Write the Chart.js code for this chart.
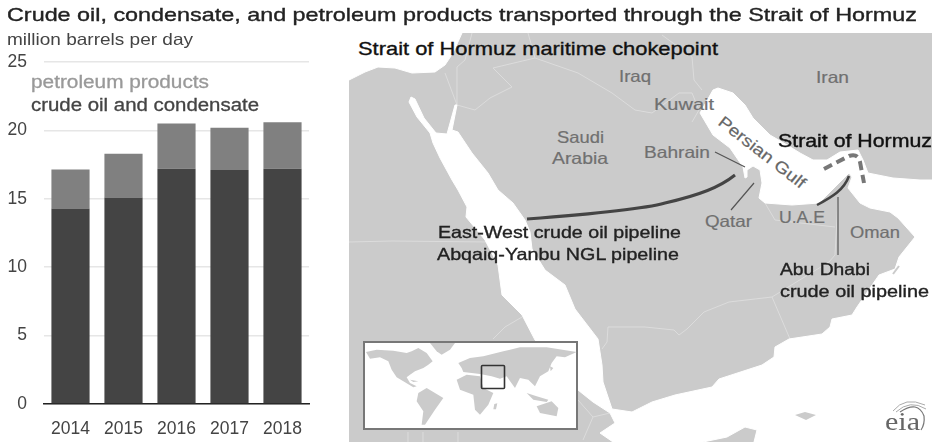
<!DOCTYPE html>
<html>
<head>
<meta charset="utf-8">
<title>Strait of Hormuz</title>
<script src="https://cdn.jsdelivr.net/npm/chart.js@4"></script>
<style>
  html, body { margin: 0; padding: 0; background: #fff; overflow: hidden; }
  #page { position: relative; width: 932px; height: 442px; filter: blur(.4px); }
  #flows { position: absolute; left: 0; top: 0; }
  #map { position: absolute; left: 0; top: 0; }
  text { font-family: "Liberation Sans", Arial, sans-serif; }
  .place { fill: #707070; font-size: 16.5px; stroke: #707070; stroke-width: .2; }
  .note { fill: #222; font-size: 16.5px; stroke: #222; stroke-width: .35; }
  .border { fill: none; stroke: #dcdcdc; stroke-width: 1; }
  .leader { fill: none; stroke: #555; stroke-width: 1.2; }
</style>
</head>
<body>
<div id="page">
<svg id="map" width="932" height="442">
  <!-- land -->
  <rect x="349" y="33" width="583" height="409" fill="#cbcbcb"/>
  <!-- borders -->
  <path class="border" d="M445 73L457 105M472 33L465 60L457 67L457 105L475 110L490 98L512 87L493 68L535 58L528 33M535 58L578 73L612 93L635 110L652 113L679 93L692 93L699 110L692 122M662 35L692 57L694 80L702 90"/>
  <path class="border" d="M765 203L775 220L835 227M838 200L835 255L829 262L772 297L729 302L704 312L687 329L679 335L674 330L645 327L608 327L607 342L602 349M772 297L790 339"/>
  <path class="border" d="M349 242L392 241L490 242M493 339L505 327L522 317M408 432V442M423 432V442M458 432V442M578 400L593 417L583 440M593 417L610 413"/>
  <!-- water -->
  <path fill="#fff" stroke="#fff" stroke-width="1" stroke-linejoin="round" d="M349 33H462L453 53L445 65L435 72L412 73L395 68L378 67L365 72L349 80Z"/>
  <path fill="#fff" stroke="#fff" stroke-width="1" stroke-linejoin="round" d="M700 113L713 90L718 88L733 93L745 105L753 118L770 135L787 145L800 153L813 160L827 160L840 152L858 150L863 160L868 173L893 178L920 180L932 180V442H754L757 430L745 427L727 437L703 442H613L600 433L615 423L610 413L593 402L578 390L535 340L522 315L502 295L498 265L485 240L466 217L467 207L458 190L452 180L440 158L433 143L430 133L417 117L409 102L411 97L415 99L424 118L436 133L447 134L455 105L457 105L452 130L458 132L472 153L488 173L498 190L513 203L525 220L530 232L532 249L545 270L565 285L575 309L598 339L602 365L603 382L612 409L632 412L652 402L675 395L712 387L719 379L762 365L774 357L775 347L789 339L822 334L830 327L832 319L852 315L857 307L879 275L895 269L899 257L915 237L898 218L890 212L870 208L860 203L848 188L852 177L849 173L832 190L819 203L792 205L765 203L759 198L762 183L760 170L753 166L747 170L747 177L745 178L743 167L730 148L713 135Z"/>
  <!-- islands -->
  <path fill="#cbcbcb" d="M795 415L805 412L816 415L806 420Z"/>
  <path fill="none" stroke="#cbcbcb" stroke-width="2" d="M893 274L899 266"/>
  <!-- inset world map -->
  <rect x="364" y="342" width="213" height="87" fill="#fff" stroke="#777" stroke-width="2"/>
  <g transform="translate(360 338) scale(.3333)" fill="#cbcbcb">
    <path d="M18 42L50 35L100 38L140 45L155 40L175 30L200 45L218 70L205 80L190 90L165 100L150 110L140 118L150 135L170 145L160 148L130 130L110 118L95 95L85 70L60 58L30 62Z"/>
    <path d="M210 15H285L270 35L245 50L230 40Z"/>
    <path d="M175 165L200 150L250 180L225 215L195 260L185 260L190 220L170 190Z"/>
    <path d="M290 125L320 110L360 115L370 150L400 165L385 200L360 230L345 215L340 170L300 155Z"/>
    <path d="M295 75L330 60L370 55L430 40L480 28H560L650 42L615 58L590 55L575 75L565 100L540 115L525 145L505 125L480 120L465 150L440 115L420 122L395 115L360 108L310 102L305 90Z"/>
    <path d="M530 205L575 190L595 210L590 235L540 225Z"/>
    <path d="M500 165L530 175L565 185L560 192L520 185ZM403 198L412 196L408 214L400 214ZM570 85L580 90L572 100ZM150 125L175 130L160 132Z"/>
  </g>
  <rect x="481.500" y="365.500" width="23" height="23" fill="none" stroke="#333" stroke-width="1.6" rx="1"/>
  <!-- pipelines and leader lines -->
  <path fill="none" stroke="#444" stroke-width="3" d="M527 219C580 215 640 210 665 203C700 195 720 187 735 175"/>
  <path fill="none" stroke="#444" stroke-width="2.500" d="M817 205C832 197 844 190 849 176"/>
  <path fill="none" stroke="#777" stroke-width="4" stroke-dasharray="9 5" d="M824 169L849 156Q858 153 860 162L864 183"/>
  <path class="leader" d="M838 197V255M715 152L745 167M731 210L754 183"/>
  <!-- map text -->
  <text x="358" y="55" font-size="18.500" fill="#111" stroke="#111" stroke-width=".35" textLength="360" lengthAdjust="spacingAndGlyphs">Strait of Hormuz maritime chokepoint</text>
  <text class="place" x="619" y="82" textLength="32" lengthAdjust="spacingAndGlyphs">Iraq</text>
  <text class="place" x="816" y="83" textLength="33" lengthAdjust="spacingAndGlyphs">Iran</text>
  <text class="place" x="654" y="110" textLength="60" lengthAdjust="spacingAndGlyphs">Kuwait</text>
  <text class="place" x="644" y="158" textLength="66" lengthAdjust="spacingAndGlyphs">Bahrain</text>
  <text class="place" x="705" y="227" textLength="47" lengthAdjust="spacingAndGlyphs">Qatar</text>
  <text class="place" x="779" y="223" textLength="46" lengthAdjust="spacingAndGlyphs">U.A.E</text>
  <text class="place" x="850" y="238" textLength="50" lengthAdjust="spacingAndGlyphs">Oman</text>
  <text class="place" x="557" y="143" textLength="47" lengthAdjust="spacingAndGlyphs">Saudi</text>
  <text class="place" x="552" y="164" textLength="56" lengthAdjust="spacingAndGlyphs">Arabia</text>
  <text class="place" transform="translate(717 124) rotate(38)" textLength="106" lengthAdjust="spacingAndGlyphs" style="fill:#666;stroke:#666">Persian Gulf</text>
  <text x="778" y="147" font-size="18" fill="#111" stroke="#111" stroke-width=".4" textLength="154" lengthAdjust="spacingAndGlyphs">Strait of Hormuz</text>
  <text class="note" x="438" y="238" textLength="243" lengthAdjust="spacingAndGlyphs">East-West crude oil pipeline</text>
  <text class="note" x="437" y="260" textLength="242" lengthAdjust="spacingAndGlyphs">Abqaiq-Yanbu NGL pipeline</text>
  <text class="note" x="780" y="275" textLength="90" lengthAdjust="spacingAndGlyphs">Abu Dhabi</text>
  <text class="note" x="780" y="297" textLength="149" lengthAdjust="spacingAndGlyphs">crude oil pipeline</text>
  <!-- eia mark -->
  <g fill="none" stroke="#aaa" stroke-width="1">
    <path d="M893 411Q905 396 925 405"/>
    <path d="M896 412Q910 399 926 409"/>
  </g>
  <path fill="none" stroke="#777" stroke-width="1.200" d="M900 412Q918 400 924 416Q925 424 921 430"/>
  <text x="885" y="430" font-size="25" fill="#666" textLength="35" lengthAdjust="spacingAndGlyphs" style="font-family:'Liberation Serif',serif">eia</text>
  <!-- chart text -->
  <text x="7" y="21" font-size="18.500" fill="#222" stroke="#222" stroke-width=".35" textLength="910" lengthAdjust="spacingAndGlyphs">Crude oil, condensate, and petroleum products transported through the Strait of Hormuz</text>
  <text x="7" y="45" font-size="16.500" fill="#444" textLength="186" lengthAdjust="spacingAndGlyphs">million barrels per day</text>
  <text x="31" y="88" font-size="17.500" fill="#999" stroke="#999" stroke-width=".3" textLength="178" lengthAdjust="spacingAndGlyphs">petroleum products</text>
  <text x="31" y="111" font-size="17.500" fill="#444" stroke="#444" stroke-width=".3" textLength="228" lengthAdjust="spacingAndGlyphs">crude oil and condensate</text>
</svg>
<canvas id="flows" width="340" height="442"></canvas>
</div>
<script>
const years = ['2014', '2015', '2016', '2017', '2018'];
const crudeOil = [14.3, 15.1, 17.2, 17.1, 17.2];
const petroleumProducts = [2.85, 3.2, 3.3, 3.1, 3.4];
const tickFont = { family: '"Liberation Sans", Arial, sans-serif', size: 17.5 };

new Chart(document.getElementById('flows'), {
    type: 'bar',
    data: {
        labels: years,
        datasets: [
            { label: 'crude oil and condensate', data: crudeOil, backgroundColor: '#444444' },
            { label: 'petroleum products', data: petroleumProducts, backgroundColor: '#808080' }
        ]
    },
    options: {
        responsive: false,
        animation: false,
        devicePixelRatio: 1,
        barPercentage: 0.72,
        categoryPercentage: 1,
        layout: { padding: { top: 62, right: 31, bottom: 0, left: 0 } },
        plugins: { legend: { display: false }, title: { display: false }, tooltip: { enabled: false } },
        scales: {
            x: {
                stacked: true,
                grid: { display: false },
                border: { color: '#222', width: 1.5 },
                ticks: { color: '#444', font: tickFont, padding: 7, maxRotation: 0, autoSkip: false },
                afterFit: s => { s.height = 38; }
            },
            y: {
                stacked: true,
                min: 0,
                max: 25,
                grid: { color: '#e6e6e6', lineWidth: 1.5, drawTicks: false },
                border: { display: false },
                ticks: { color: '#444', font: tickFont, padding: 17, stepSize: 5 },
                afterFit: s => { s.width = 44; }
            }
        }
    }
});
</script>
</body>
</html>
